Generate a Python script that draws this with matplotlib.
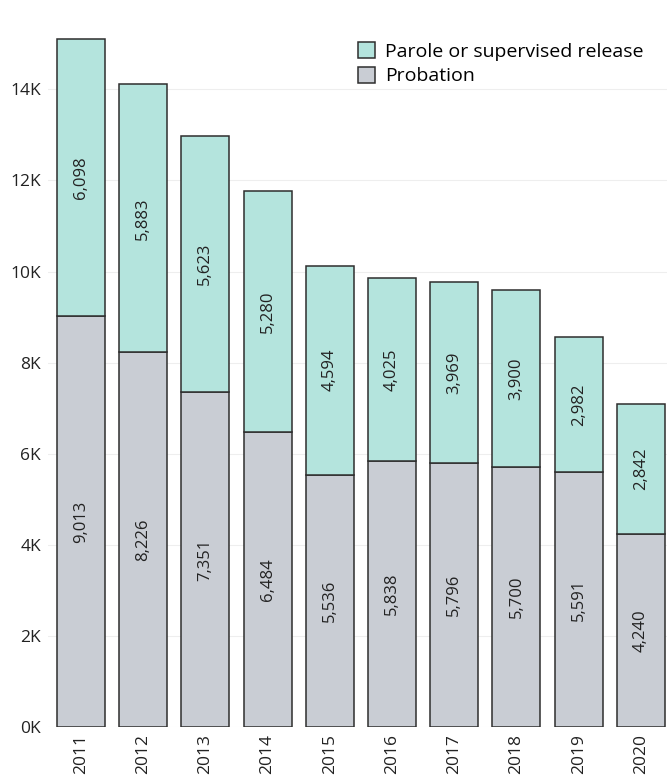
import matplotlib
matplotlib.use("Agg")
import matplotlib.pyplot as plt
from matplotlib.ticker import FuncFormatter

years = ["2011", "2012", "2013", "2014", "2015", "2016", "2017", "2018", "2019", "2020"]
probation = [9013, 8226, 7351, 6484, 5536, 5838, 5796, 5700, 5591, 4240]
parole = [6098, 5883, 5623, 5280, 4594, 4025, 3969, 3900, 2982, 2842]

plt.rcParams['font.family'] = ['Open Sans', 'DejaVu Sans']

fig = plt.figure(figsize=(6.67, 7.79), dpi=100)
ax = fig.add_axes([48/667, 52/779, 1 - 48/667, (779-21)/779 - 52/779])

x = list(range(len(years)))
c_prob = "#c9cdd4"
c_par = "#b4e4dd"
edge = "#2e2e2e"
w = 0.77
ax.bar(x, probation, width=w, color=c_prob, edgecolor=edge, linewidth=1.1, label="Probation", zorder=3)
ax.bar(x, parole, width=w, bottom=probation, color=c_par, edgecolor=edge, linewidth=1.1,
       label="Parole or supervised release", zorder=3)

for i in x:
    ax.text(i, probation[i] / 2, f"{probation[i]:,}", rotation=90, ha="center", va="center",
            fontsize=12, color="#222222", zorder=4)
    ax.text(i, probation[i] + parole[i] / 2, f"{parole[i]:,}", rotation=90, ha="center", va="center",
            fontsize=12, color="#222222", zorder=4)

ax.set_xlim(-0.53, 9.42)
ax.set_ylim(0, 15500)
ax.set_yticks(range(0, 15000, 2000))
ax.yaxis.set_major_formatter(FuncFormatter(lambda v, p: f"{int(v/1000)}K"))
ax.set_xticks(x)
ax.set_xticklabels(years, rotation=90)
ax.tick_params(axis="both", length=0, labelsize=12.5, colors="#222222")
ax.tick_params(axis="x", pad=5)
ax.tick_params(axis="y", pad=5)
ax.grid(axis="y", color="#eeeeee", linewidth=0.8, zorder=0)
for s in ax.spines.values():
    s.set_visible(False)

handles, labels = ax.get_legend_handles_labels()
ax.legend(handles[::-1], labels[::-1], loc="upper right", bbox_to_anchor=(0.99, 0.995),
          frameon=False, fontsize=14, handlelength=0.9, handleheight=0.9,
          handletextpad=0.5, labelspacing=0.3, borderaxespad=0.5)

fig.savefig("out.png", dpi=100)
